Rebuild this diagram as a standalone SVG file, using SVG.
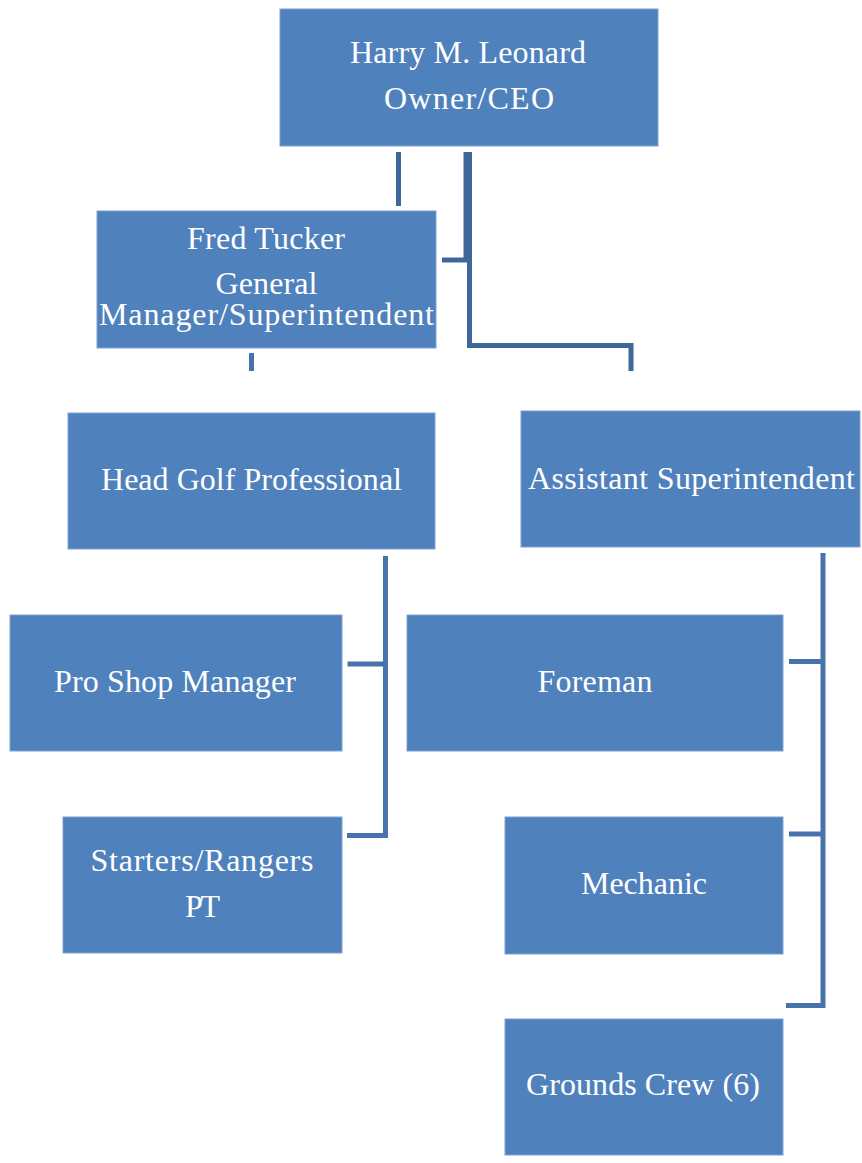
<svg xmlns="http://www.w3.org/2000/svg" width="862" height="1163" viewBox="0 0 862 1163">
  <style>
    .box { fill: #4F81BD; stroke: #7FA2D2; stroke-width: 1; }
    .lbl { font-family: "Liberation Serif", "DejaVu Serif", serif; font-size: 32px; fill: #FFFFFF; text-anchor: middle; }
    .wire { fill: none; stroke: #4773AC; stroke-width: 5; stroke-linejoin: miter; stroke-linecap: butt; }
    .wire-top { fill: none; stroke: #3F6699; stroke-width: 5; stroke-linejoin: miter; stroke-linecap: butt; }
  </style>
  <rect width="862" height="1163" fill="#FFFFFF"/>

  <g id="connectors">
    <!-- owner down to general manager -->
    <path class="wire-top" d="M398.5,152 V206"/>
    <path class="wire-top" d="M466,152 V260 H442"/>
    <!-- owner across to assistant superintendent -->
    <path class="wire-top" d="M469.5,152 V345.5 H631 V371"/>
    <!-- general manager down to head golf professional -->
    <path class="wire" d="M251.5,353 V371"/>
    <!-- head golf professional branch -->
    <path class="wire" d="M385.5,556 V835.5 H347"/>
    <path class="wire" d="M347.5,664 H385"/>
    <!-- assistant superintendent branch -->
    <path class="wire" d="M823,553 V1005.5 H786"/>
    <path class="wire" d="M789,661.5 H823"/>
    <path class="wire" d="M789,834 H823"/>
  </g>

  <g id="owner">
    <rect class="box" x="280" y="9" width="378" height="137"/>
    <text class="lbl" x="468" y="63" textLength="236">Harry M. Leonard</text>
    <text class="lbl" x="469" y="109" textLength="170">Owner/CEO</text>
  </g>

  <g id="general-manager">
    <rect class="box" x="97" y="211" width="339" height="137"/>
    <text class="lbl" x="266" y="249" textLength="158">Fred Tucker</text>
    <text class="lbl" x="266.5" y="294" textLength="102">General</text>
    <text class="lbl" x="266.5" y="325" textLength="335">Manager/Superintendent</text>
  </g>

  <g id="head-golf-professional">
    <rect class="box" x="68" y="413" width="367" height="136"/>
    <text class="lbl" x="251.5" y="490" textLength="301">Head Golf Professional</text>
  </g>

  <g id="assistant-superintendent">
    <rect class="box" x="521" y="411" width="339" height="136"/>
    <text class="lbl" x="691.5" y="489" textLength="327">Assistant Superintendent</text>
  </g>

  <g id="pro-shop-manager">
    <rect class="box" x="10" y="615" width="332" height="136"/>
    <text class="lbl" x="175" y="692" textLength="242">Pro Shop Manager</text>
  </g>

  <g id="foreman">
    <rect class="box" x="407" y="615" width="376" height="136"/>
    <text class="lbl" x="595" y="692" textLength="115">Foreman</text>
  </g>

  <g id="starters-rangers">
    <rect class="box" x="63" y="817" width="279" height="136"/>
    <text class="lbl" x="202" y="871" textLength="223">Starters/Rangers</text>
    <text class="lbl" x="202.5" y="917" textLength="35">PT</text>
  </g>

  <g id="mechanic">
    <rect class="box" x="505" y="817" width="278" height="137"/>
    <text class="lbl" x="644" y="894" textLength="126">Mechanic</text>
  </g>

  <g id="grounds-crew">
    <rect class="box" x="505" y="1019" width="278" height="136"/>
    <text class="lbl" x="643" y="1095" textLength="234">Grounds Crew (6)</text>
  </g>
</svg>
